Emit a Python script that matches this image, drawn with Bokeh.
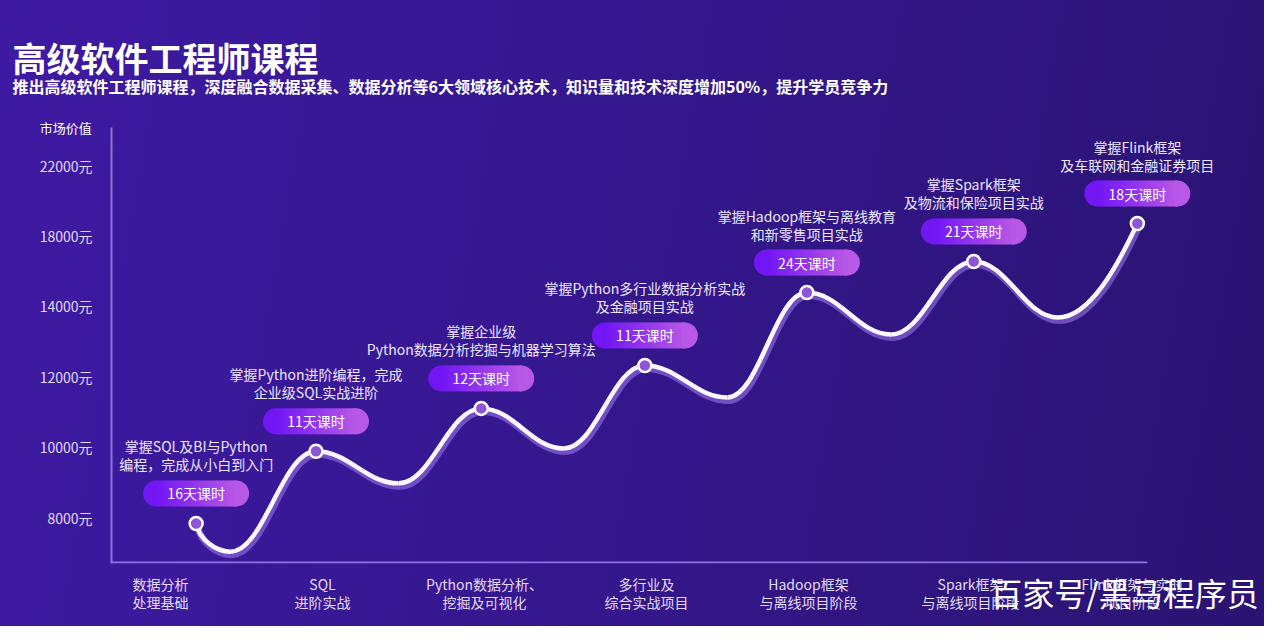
import numpy as np
from bokeh.plotting import figure
from bokeh.models import Range1d, FixedTicker, Title
from bokeh.core.properties import value
from bokeh.embed import file_html
from bokeh.resources import INLINE

FONT = "Noto Sans CJK SC"

# ---------------- data ----------------
title_text = "高级软件工程师课程"
subtitle_text = "推出高级软件工程师课程，深度融合数据采集、数据分析等6大领域核心技术，知识量和技术深度增加50%，提升学员竞争力"
y_axis_name = "市场价值"
watermark_text = "百家号/黑马程序员"

stages = [
    "数据分析\n处理基础",
    "SQL\n进阶实战",
    "Python数据分析、\n挖掘及可视化",
    "多行业及\n综合实战项目",
    "Hadoop框架\n与离线项目阶段",
    "Spark框架\n与离线项目阶段",
    "Flink框架与实时\n项目阶段",
]
y_tick_values = [8000, 10000, 12000, 14000, 18000, 22000]
y_tick_labels = ["8000元", "10000元", "12000元", "14000元", "18000元", "22000元"]

# milestone points (stage position, market value in yuan)
milestone_x = [0.22, 0.96, 1.98, 2.99, 3.99, 5.02, 6.03]
milestone_value = [7830, 9880, 11100, 12320, 14780, 16550, 18700]
# dips of the wave between milestones
trough_x = [0.43, 1.47, 2.49, 3.50, 4.51, 5.54]
trough_value = [7030, 8970, 9960, 11410, 13200, 13680]

course_days = [16, 11, 12, 11, 24, 21, 18]
descriptions = [
    "掌握SQL及BI与Python\n编程，完成从小白到入门",
    "掌握Python进阶编程，完成\n企业级SQL实战进阶",
    "掌握企业级\nPython数据分析挖掘与机器学习算法",
    "掌握Python多行业数据分析实战\n及金融项目实战",
    "掌握Hadoop框架与离线教育\n和新零售项目实战",
    "掌握Spark框架\n及物流和保险项目实战",
    "掌握Flink框架\n及车联网和金融证券项目",
]

# ---------------- layout ----------------
W, H = 1264, 626
BL, BR, BT, BB = 111, 12, 127, 63
FW, FH = W - BL - BR, H - BT - BB
PPU_X, PPU_Y = 162.0, 70.4
x_start = -49 / PPU_X
x_end = x_start + FW / PPU_X
y_start = -46 / PPU_Y
y_end = y_start + FH / PPU_Y
ux, uy = 1 / PPU_X, 1 / PPU_Y
axis_end_x = x_start + 1036 * ux


def to_pos(v):
    v = np.asarray(v, dtype=float)
    idx = np.arange(len(y_tick_values), dtype=float)
    pos = np.interp(v, y_tick_values, idx)
    step = y_tick_values[1] - y_tick_values[0]
    return np.where(v < y_tick_values[0], (v - y_tick_values[0]) / step, pos)


p = figure(width=W, height=H, output_backend="svg", toolbar_location=None,
           x_range=Range1d(x_start, x_end), y_range=Range1d(y_start, y_end),
           min_border_left=BL, min_border_right=BR, min_border_top=BT, min_border_bottom=BB)
p.styles = {"background": "linear-gradient(100deg, #3e1aa3 0%, #35178f 45%, #2a1372 100%)"}
p.border_fill_alpha = 0
p.background_fill_alpha = 0
p.outline_line_color = None
p.xgrid.grid_line_color = None
p.ygrid.grid_line_color = None

# titles
p.title.text = title_text
p.title.align = "left"
p.title.offset = -99
p.title.text_font = FONT
p.title.text_font_size = "34px"
p.title.text_font_style = "bold"
p.title.text_color = "white"
p.title.standoff = -78
p.add_layout(Title(text=subtitle_text, align="left", offset=-99, text_font=FONT,
                   text_font_size="16px", text_font_style="bold", text_color="white",
                   standoff=59), "above")

AXIS_COLOR = "#8f72e4"
# axes
p.yaxis.ticker = FixedTicker(ticks=list(range(len(y_tick_values))))
p.yaxis.major_label_overrides = {i: s for i, s in enumerate(y_tick_labels)}
p.xaxis.ticker = FixedTicker(ticks=list(range(len(stages))))
p.xaxis.major_label_overrides = {i: s for i, s in enumerate(stages)}
for ax in (p.xaxis, p.yaxis):
    ax.axis_line_color = AXIS_COLOR
    ax.axis_line_width = 2
    ax.major_tick_line_color = None
    ax.minor_tick_line_color = None
    ax.major_label_text_font = FONT
    ax.major_label_text_font_size = "14px"
    ax.major_label_text_color = "#e2dbf7"
p.xaxis.axis_line_color = None
p.yaxis.major_label_standoff = 13
p.xaxis.major_label_standoff = 4
p.xaxis.major_label_text_line_height = 0.9

# watermark carried by the bottom axis label (ideographic spaces pull it left of the end)
p.xaxis.axis_label = watermark_text + "\u3000" * 8
p.xaxis.axis_label_text_font = FONT
p.xaxis.axis_label_text_font_size = "32px"
p.xaxis.axis_label_text_font_style = "normal"
p.xaxis.axis_label_text_color = "white"
p.xaxis.axis_label_align = "end"
p.xaxis.axis_label_standoff = -46

# y-axis name tag at the top of the axis
p.yaxis.axis_label = y_axis_name
p.yaxis.axis_label_orientation = "horizontal"
p.yaxis.axis_label_align = "end"
p.yaxis.axis_label_standoff = -55
p.yaxis.axis_label_text_font = FONT
p.yaxis.axis_label_text_font_size = "13px"
p.yaxis.axis_label_text_font_style = "normal"
p.yaxis.axis_label_text_color = "white"

# bottom base line (stops short of the right edge like the original)
p.segment(x0=[x_start], y0=[y_start + 1 * uy], x1=[axis_end_x], y1=[y_start + 1 * uy],
          line_color=AXIS_COLOR, line_width=2)

# ---------------- wave curve ----------------
kx = np.empty(len(milestone_x) + len(trough_x))
ky = np.empty_like(kx)
kx[0::2] = milestone_x
kx[1::2] = trough_x
ky[0::2] = to_pos(milestone_value)
ky[1::2] = to_pos(trough_value)

x0, x1, y0, y1 = kx[:-1], kx[1:], ky[:-1], ky[1:]
dx = x1 - x0
cx0 = x0 + 0.4 * dx
cy0 = y0.copy()
cx1 = x1 - 0.4 * dx
cy1 = y1.copy()
cx0[0] = x0[0] + 0.1 * dx[0]
cy0[0] = y0[0] + 0.6 * (y1[0] - y0[0])
cx1[-1] = x1[-1] - 0.25 * dx[-1]
cy1[-1] = y1[-1] - 0.45 * (y1[-1] - y0[-1])

sx, sy = 1.5 * ux, -3 * uy
p.bezier(x0=x0 + sx, y0=y0 + sy, x1=x1 + sx, y1=y1 + sy, cx0=cx0 + sx, cy0=cy0 + sy,
         cx1=cx1 + sx, cy1=cy1 + sy, line_color="#a47cf0", line_width=7, line_alpha=0.55)
p.bezier(x0=x0, y0=y0, x1=x1, y1=y1, cx0=cx0, cy0=cy0, cx1=cx1, cy1=cy1,
         line_color="#fbf8ff", line_width=4.5)

p.scatter(milestone_x, to_pos(milestone_value), size=13, fill_color="#8e56d6",
          line_color="white", line_width=2.5)

# ---------------- pills ----------------
c_left = np.array([0x72, 0x16, 0xf5])
c_right = np.array([0xb8, 0x58, 0xe6])


def hexcol(c):
    return "#%02x%02x%02x" % tuple(int(round(v)) for v in c)


pcx = np.array(milestone_x)
pcy = to_pos(milestone_value) + 30 * uy
half_h, inner = 13, 40
p.scatter(pcx - inner * ux, pcy, size=2 * half_h, fill_color=hexcol(c_left), line_color=None)
p.scatter(pcx + inner * ux, pcy, size=2 * half_h, fill_color=hexcol(c_right), line_color=None)
n = 24
L, R, B, T, C = [], [], [], [], []
for i in range(n):
    col = hexcol(c_left + (c_right - c_left) * (i + 0.5) / n)
    for cx, cy in zip(pcx, pcy):
        L.append(cx + (-inner + i * 2 * inner / n) * ux)
        R.append(cx + (-inner + (i + 1) * 2 * inner / n + 0.7) * ux)
        B.append(cy - half_h * uy)
        T.append(cy + half_h * uy)
        C.append(col)
p.quad(left=L, right=R, bottom=B, top=T, fill_color=C, line_color=None)

p.text(x=pcx, y=pcy, text=[f"{d}天课时" for d in course_days], text_align="center",
       text_baseline="middle", text_font=value(FONT), text_font_size="14px",
       text_color="white")
p.text(x=pcx, y=pcy, y_offset=-(half_h + 6), text=descriptions, text_align="center",
       text_baseline="bottom", text_font=value(FONT), text_font_size="14px",
       text_color="#ece6ff", text_line_height=0.9)

open("out.html", "w").write(file_html(p, INLINE))
